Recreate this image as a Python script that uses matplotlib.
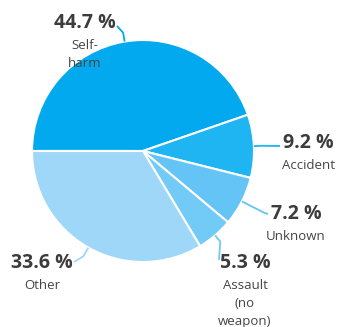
import numpy as np
import matplotlib.pyplot as plt

categories = ["Self-\nharm", "Accident", "Unknown", "Assault\n(no\nweapon)", "Other"]
shares = [44.7, 9.2, 7.2, 5.3, 33.6]
colors = ["#03A9EE", "#1EB5F2", "#64C4F6", "#72CAF7", "#9FD7F8"]

# label layout (pixel coords, y down): text centre, elbow radius offset, line end
label_pos = [(85, 23), (308, 143), (296, 214), (245, 263), (42, 263)]
elbow_off = [9, 8, 25, 8, 10]
line_end = [(117, 26), (280, 146), (268, 214), (219, 260), (74, 262)]

plt.rcParams['font.family'] = ['Open Sans', 'DejaVu Sans']

fig = plt.figure(figsize=(3.41, 3.27), dpi=100)
ax = fig.add_axes([0, 0, 1, 1])

cx, cy, r = 143, 151, 111
ax.pie(shares, colors=colors, startangle=180, counterclock=True,
       center=(cx, cy), radius=r, frame=True,
       wedgeprops=dict(edgecolor="white", linewidth=1.5))
ax.set_xlim(0, 341)
ax.set_ylim(327, 0)
ax.set_aspect('equal')
ax.axis('off')

total = sum(shares)
cum = 0
for i, v in enumerate(shares):
    mid = np.radians(180 + (cum + v / 2) / total * 360)
    cum += v
    p0 = (cx + r * np.cos(mid), cy + r * np.sin(mid))
    re = r + elbow_off[i]
    p1 = (cx + re * np.cos(mid), cy + re * np.sin(mid))
    p2 = line_end[i]
    ax.plot([p0[0], p1[0], p2[0]], [p0[1], p1[1], p2[1]], color=colors[i],
            lw=1.3, solid_capstyle='butt')
    x, y = label_pos[i]
    ax.text(x, y, f"{v} %", ha='center', va='center', fontsize=14,
            fontweight='bold', color="#3c3c3c")
    ax.text(x, y + 16, categories[i], ha='center', va='top', fontsize=9.5,
            color="#444444", linespacing=1.5)

fig.savefig("out.png", dpi=100)
